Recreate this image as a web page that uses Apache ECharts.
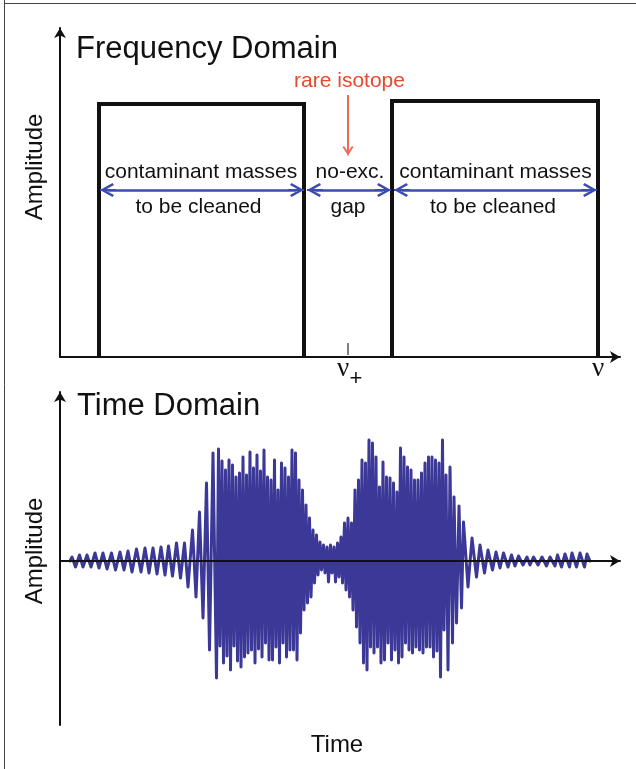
<!DOCTYPE html>
<html><head><meta charset="utf-8">
<script src="https://cdn.jsdelivr.net/npm/echarts@6/dist/echarts.min.js"></script>
<style>html,body{margin:0;padding:0;background:#fff}#c{width:636px;height:769px}</style>
</head><body><div id="c"></div>
<script>
// ---------- Frequency domain (arbitrary frequency / amplitude units) ----------
const bandEdges = [[99, 304], [392, 598]];      // excitation bands (contaminant masses)
const bandHeights = [253, 256];                  // band amplitudes
const nuPlus = 348;                              // rare isotope frequency ν+
const nuLabelPositions = [348, 598];
const spanArrows = [[101, 303], [308, 390], [395, 596]];  // double-arrow extents
const spanLevel = 167;
const rareArrow = [262, 202];                    // arrow top / tip amplitude

// ---------- Time domain (arbitrary time / amplitude units) ----------
const waveTime = [70,72,75.5,79.5,83,87,91,95,99,103,107,111.5,115.5,120,124,128,132,136.5,141,145,149,153,157,161,165,168.5,172.5,176.5,180.5,184.5,188,192.5,196,199.5,203,206.5,209.5,213,216.5,
218.5,220,222,223.5,225.5,227,229,230.5,232.5,234,236,237.5,239.5,241,243,244.5,246.5,248,250,251.5,253.5,255,257,258.5,260.5,262,264,265.5,267.5,269,271,272.5,274.5,276,278,279.5,281.5,283,285,286.5,288.5,290,292,293.5,295.5,297,299,300.5,302.5,304,306,307.5,309.5,311,313,314.5,316.5,318,320,321.5,323.5,325,327,328.5,330.5,332,334,335.5,337.5,339,341,342.5,344.5,346,348,349.5,351.5,353,355,356.5,358.5,360,362,363.5,365.5,367,369,370.5,372.5,374,376,377.5,379.5,381,383,384.5,386.5,388,390,391.5,393.5,395,397,398.5,400.5,402,404,405.5,407.5,409,411,412.5,414.5,416,418,419.5,421.5,423,425,426.5,428.5,430,432,433.5,435.5,437,439,440.5,442.5,444,446,448,450,452.5,454,456.5,459,461.5,463.5,468,472,476.5,480,484.5,488,492.5,496,500,503.5,508,511.5,515,518.5,523,527,530,533.5,538,542,546.5,550,555,557.5,561.5,565,569.5,572,576.5,580,584.5,587,590];
const waveAmp = [0,4,-6,6,-6,6,-6,8,-7,8,-8,8,-9,9,-9,10,-11,12,-11,13,-12,13,-13,14,-14,15,-15,18,-17,18,-26,31,-36,49,-57,78,-89,108,-117,
112,-85,100,-102,91,-95,101,-109,96,-85,84,-100,88,-106,104,-96,86,-92,109,-89,93,-102,106,-88,90,-96,111,-82,84,-99,81,-99,101,-86,71,-102,98,-82,93,-96,84,-89,111,-89,108,-99,81,-72,71,-49,56,-42,43,-36,31,-22,26,-14,19,-9,16,-12,14,-21,16,-12,14,-21,18,-16,24,-22,38,-29,43,-36,38,-49,71,-66,81,-82,101,-102,98,-109,121,-86,118,-92,104,-86,74,-102,99,-99,84,-82,83,-99,78,-89,69,-102,113,-96,104,-82,94,-89,91,-92,81,-86,81,-89,88,-92,98,-86,104,-86,104,-96,101,-90,98,-116,121,-69,86,-109,94,-82,64,-62,55,-47,39,-26,23,-16,16,-12,11,-9,9,-7,8,-6,6,-5,5,-4,4,-4,4,-4,4,-5,4,-5,6,-6,7,-6,8,-6,8,-6,7,0];

const BLUE = '#3b4cae', RED = '#ee6a50', WAVE = '#3c3897', INK = '#111';
const CHEV = 'path://M7,0L14,12.5L12,14L7,5L2,14L0,12.5ZM5.9,0L8.1,0L8.1,16L5.9,16Z';
const SANS = '"Liberation Sans", Arial, sans-serif';

const chart = echarts.init(document.getElementById('c'), null, {renderer: 'canvas'});

function bandData(i) {
  const [a, b] = bandEdges[i], h = bandHeights[i];
  return [[a, 0], [a, h], [b, h], [b, 0]];
}
const half = 7;
const blueStyle = {color: BLUE, width: 2.5, type: 'solid'};
const spanMarks = spanArrows.map(([a, b]) => [
  {coord: [a + half, spanLevel], lineStyle: blueStyle},
  {coord: [b - half, spanLevel], lineStyle: blueStyle}
]);
const redStyle = {color: RED, width: 2, type: 'solid'};
const tickStyle = {color: '#555', width: 1.5, type: 'solid'};
const pointerMarks = [
  [{coord: [nuPlus, rareArrow[0]], symbol: 'none', lineStyle: redStyle},
   {coord: [nuPlus, rareArrow[1] + 5], lineStyle: redStyle}],
  [{coord: [nuPlus, 2], symbol: 'none', lineStyle: tickStyle},
   {coord: [nuPlus, 14], symbol: 'none', lineStyle: tickStyle}]
];

const axisCommon = {
  axisTick: {show: false}, axisLabel: {show: false}, splitLine: {show: false},
  axisLine: {symbol: ['none', 'arrow'], symbolSize: [9, 10], lineStyle: {color: INK, width: 2}}
};

function txt(text, x, y, size, opts) {
  opts = opts || {};
  return {
    type: 'text', x: x, y: y, rotation: opts.rot || 0, z: 100,
    style: {text: text, fill: opts.color || INK, font: size + 'px ' + (opts.family || SANS),
            align: opts.align || 'center', verticalAlign: 'middle'}
  };
}

chart.setOption({
  animation: false,
  grid: [
    {left: 60, top: 28, width: 560, height: 329},
    {left: 60, top: 392, width: 560, height: 333}
  ],
  xAxis: [
    Object.assign({type: 'value', gridIndex: 0, min: 60, max: 620}, axisCommon),
    Object.assign({type: 'value', gridIndex: 1, min: 60, max: 620, z: 5}, axisCommon)
  ],
  yAxis: [
    Object.assign({type: 'value', gridIndex: 0, min: 0, max: 329}, axisCommon),
    Object.assign({type: 'value', gridIndex: 1, min: -164, max: 169}, axisCommon)
  ],
  series: [
    {type: 'line', xAxisIndex: 0, yAxisIndex: 0, data: bandData(0), symbol: 'none',
     lineStyle: {color: INK, width: 4, join: 'miter', cap: 'butt'},
     markLine: {silent: true, animation: false, label: {show: false}, emphasis: {disabled: true},
                symbol: [CHEV, CHEV], symbolSize: [14, 16], data: spanMarks}},
    {type: 'line', xAxisIndex: 0, yAxisIndex: 0, data: bandData(1), symbol: 'none',
     lineStyle: {color: INK, width: 4, join: 'miter', cap: 'butt'},
     markLine: {silent: true, animation: false, label: {show: false}, emphasis: {disabled: true},
                symbol: ['none', CHEV], symbolSize: [11, 11], data: pointerMarks}},
    {type: 'line', xAxisIndex: 1, yAxisIndex: 1, data: waveTime.map((t, i) => [t, waveAmp[i]]),
     symbol: 'none', lineStyle: {color: WAVE, width: 3, join: 'round', cap: 'round'}}
  ],
  graphic: [
    {type: 'line', shape: {x1: 4.5, y1: 0, x2: 4.5, y2: 769}, style: {stroke: '#444', lineWidth: 1}},
    {type: 'line', shape: {x1: 4, y1: 3.5, x2: 636, y2: 3.5}, style: {stroke: '#444', lineWidth: 1}},
    txt('Frequency Domain', 76, 49, 31, {align: 'left'}),
    txt('Time Domain', 77, 406, 31, {align: 'left'}),
    txt('rare isotope', 349.5, 81, 21, {color: '#e64a2e'}),
    txt('contaminant masses', 201, 172, 21),
    txt('to be cleaned', 198.5, 207, 21),
    txt('no-exc.', 350, 172, 21),
    txt('gap', 348, 207, 21),
    txt('contaminant masses', 495.5, 172, 21),
    txt('to be cleaned', 493, 207, 21),
    txt('Amplitude', 35, 167, 24, {rot: Math.PI / 2}),
    txt('Amplitude', 35, 551, 24, {rot: Math.PI / 2}),
    txt('Time', 337, 745, 24),
    txt('ν', nuLabelPositions[0] - 5, 369, 27, {family: '"Liberation Serif", serif'}),
    txt('+', nuLabelPositions[0] + 8, 379, 22),
    txt('ν', nuLabelPositions[1], 369, 27, {family: '"Liberation Serif", serif'})
  ]
});
</script></body></html>
